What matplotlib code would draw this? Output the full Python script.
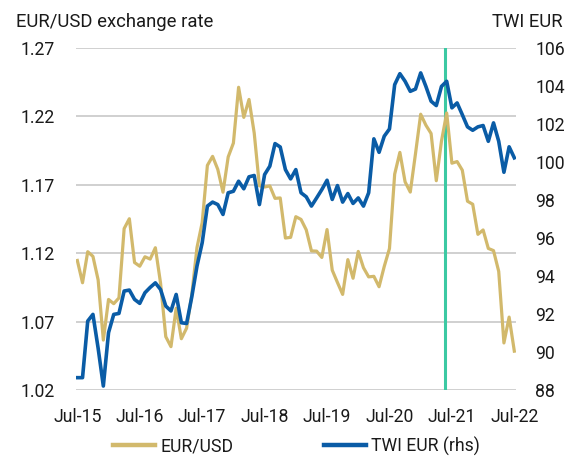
import numpy as np
import matplotlib
matplotlib.use("Agg")
import matplotlib.pyplot as plt

plt.rcParams['font.family'] = ['Roboto', 'DejaVu Sans']

# month-end data, first point plotted under the "Jul-15" label
eurusd = [1.1147, 1.0984, 1.1211, 1.1177, 1.1005, 1.0565, 1.0862,
          1.0831, 1.0873, 1.1380, 1.1452, 1.1132, 1.1105, 1.1174, 1.1157, 1.1240, 1.0981, 1.0590, 1.0517,
          1.0798, 1.0575, 1.0652, 1.0895, 1.1241, 1.1424, 1.1842, 1.1908, 1.1813, 1.1646, 1.1904, 1.2005,
          1.2413, 1.2193, 1.2324, 1.2079, 1.1693, 1.1684, 1.1692, 1.1601, 1.1604, 1.1311, 1.1316, 1.1467,
          1.1447, 1.1371, 1.1217, 1.1215, 1.1169, 1.1373, 1.1076, 1.0986, 1.0899, 1.1153, 1.1017, 1.1213,
          1.1094, 1.1027, 1.1031, 1.0955, 1.1104, 1.1234, 1.1778, 1.1937, 1.1722, 1.1647, 1.1927, 1.2216,
          1.2136, 1.2075, 1.1730, 1.2020, 1.2225, 1.1858, 1.1870, 1.1807, 1.1580, 1.1558, 1.1338, 1.1370,
          1.1235, 1.1219, 1.1067, 1.0544, 1.0733, 1.0484]

twi_eur = [88.65, 88.65, 91.63, 91.98, 90.2, 88.21, 91.02, 91.98, 92.03, 93.21,
           93.26, 92.77, 92.56, 93.12, 93.4, 93.64, 93.29, 92.42, 92.16, 93.03,
           91.54, 91.5, 92.9, 94.52, 95.75, 97.68, 97.89, 97.76, 97.24, 98.38,
           98.46, 98.99, 98.59, 99.22, 99.29, 97.76, 99.34, 99.78, 100.97, 100.79,
           99.6, 99.11, 99.6, 98.38, 98.17, 97.68, 98.11, 98.55, 99.04, 98.03,
           98.76, 97.89, 98.34, 97.82, 98.11, 97.68, 98.38, 101.22, 100.51, 101.36,
           101.74, 104.07, 104.65, 104.25, 103.72, 103.84, 104.69, 103.98, 103.2, 102.97,
           103.98, 104.25, 102.85, 103.11, 102.49, 101.85, 101.67, 101.85, 101.92, 101.09,
           102.06, 101.09, 99.46, 100.8, 100.22]

tick_labels = ['Jul-15', 'Jul-16', 'Jul-17', 'Jul-18', 'Jul-19', 'Jul-20', 'Jul-21', 'Jul-22']
marker_month = 70.7

gold = '#D2B96C'
blue = '#0A5CA6'
teal = '#3CC9A3'

x = np.arange(len(eurusd))

fig = plt.figure(figsize=(5.79, 4.59), dpi=100)
ax = fig.add_axes([0.1313, 0.1503, 0.7597, 0.7451])
ax2 = ax.twinx()

ax.axvline(marker_month, color=teal, linewidth=2.2, zorder=2)
ax.plot(x, eurusd, color=gold, linewidth=2.3, zorder=3, label='EUR/USD')
ax2.plot(x, twi_eur, color=blue, linewidth=2.6, label='TWI EUR (rhs)')

ax.set_xlim(-0.25, 84.3)
ax.set_ylim(1.02, 1.27)
ax.set_yticks(np.arange(1.02, 1.2701, 0.05))
ax.set_yticklabels([f'{v:.2f}' for v in np.arange(1.02, 1.2701, 0.05)])
ax2.set_ylim(88, 106)
ax2.set_yticks(np.arange(88, 107, 2))
ax.set_xticks(np.arange(0, 85, 12))
ax.set_xticklabels(tick_labels)

ax.grid(axis='y', color='#c4c4c4', linewidth=1.1)
ax.set_axisbelow(True)
for a in (ax, ax2):
    for s in a.spines.values():
        s.set_visible(False)
    a.tick_params(length=0, labelsize=12.7, colors='#1a1a1a')
ax.tick_params(axis='y', pad=15)
ax.tick_params(axis='x', pad=13)
ax2.tick_params(axis='y', pad=14)

fig.text(16 / 579, 1 - 27 / 459, 'EUR/USD exchange rate', fontsize=13.3, color='#1a1a1a',
         ha='left', va='baseline')
fig.text(563 / 579, 1 - 27 / 459, 'TWI EUR', fontsize=13.3, color='#1a1a1a',
         ha='right', va='baseline')

h1, l1 = ax.get_legend_handles_labels()
h2, l2 = ax2.get_legend_handles_labels()
leg = fig.legend(h1 + h2, l1 + l2, loc='center', bbox_to_anchor=(296.5 / 579, 1 - 446 / 459),
                 ncol=2, frameon=False, fontsize=12.7, handlelength=2.4, handletextpad=0.3,
                 columnspacing=5.1, labelcolor='#1a1a1a')
for line in leg.get_lines():
    line.set_linewidth(3.2)

fig.savefig('out.png', dpi=100)
